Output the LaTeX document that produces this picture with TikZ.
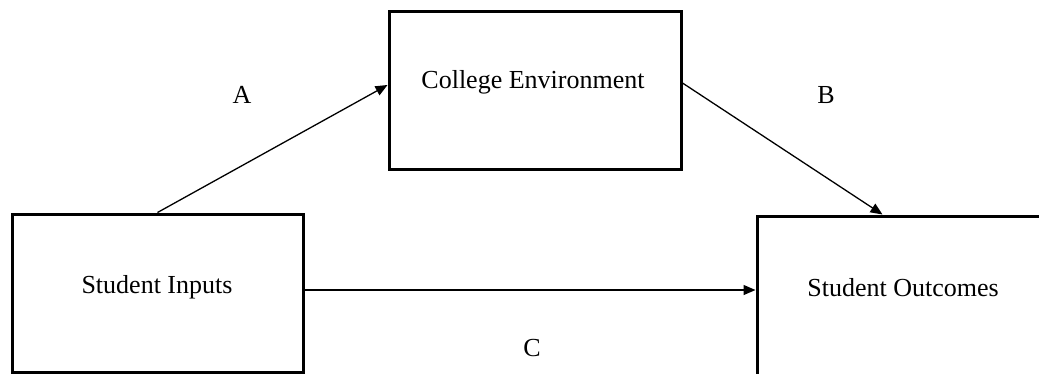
\documentclass[tikz,border=0pt]{standalone}
\usepackage{fontspec}
\setmainfont{Liberation Serif}
\usetikzlibrary{arrows.meta,calc}
\begin{document}
\begin{tikzpicture}[x=1pt,y=-1pt,
  box/.style={draw=black,line width=3pt,rectangle,inner sep=0pt},
  txt/.style={font=\fontsize{26}{30}\selectfont,inner sep=0pt},
  conn/.style={line width=1.3pt,-{Triangle[length=12pt,width=10pt]}}]
\useasboundingbox (0,0) rectangle (1039,373);
\clip (0,0) rectangle (1039,373);
\fill[white] (0,0) rectangle (1039,373);
% boxes
\node[box,minimum width=291pt,minimum height=158pt] (si) at (157.5,293) {};
\node[box,minimum width=292pt,minimum height=158pt] (ce) at (535,90) {};
\node[box,minimum width=291pt,minimum height=159pt] (so) at (902.5,295.5) {};
% texts
\node[txt] (tsi) at (157,287) {Student Inputs};
\node[txt] (tce) at (533,82) {College Environment};
\node[txt] (tso) at (903,288) {Student Outcomes};
% connectors
\draw[conn] (si.north) -- ([yshift=5pt]ce.west);
\draw[conn] ([yshift=7pt]ce.east) -- ([xshift=-20pt]so.north);
\draw[conn] ([yshift=3pt]si.east) -- ([yshift=5.5pt]so.west);
% labels
\node[txt] (la) at (242,95) {A};
\node[txt] (lb) at (826,95) {B};
\node[txt] (lc) at (532,348) {C};
\end{tikzpicture}
\end{document}
